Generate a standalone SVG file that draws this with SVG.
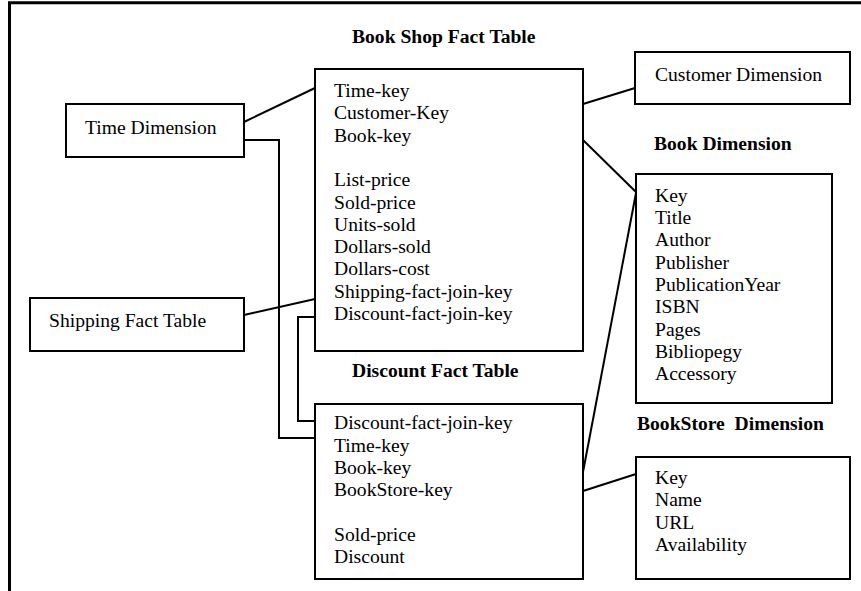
<svg xmlns="http://www.w3.org/2000/svg" width="861" height="591" viewBox="0 0 861 591">
<style>
.box{fill:#fff;stroke:#000;stroke-width:2}
.t{font-family:"Liberation Serif","Times New Roman",serif;font-size:19.6px;fill:#000}
.b{font-family:"Liberation Serif","Times New Roman",serif;font-size:19.6px;font-weight:bold;fill:#000}
.c{fill:none;stroke:#000;stroke-width:2}
</style>
<rect width="861" height="591" fill="#fff"/>
<path d="M9.5 591 V2.75 H861" fill="none" stroke="#000" stroke-width="3"/>
<g id="connectors">
<line class="c" x1="244" y1="122" x2="315" y2="88"/>
<polyline class="c" points="244,140 279,140 279,438 315,438"/>
<line class="c" x1="244" y1="315" x2="315" y2="299"/>
<polyline class="c" points="315,317 298,317 298,421 315,421"/>
<line class="c" x1="583" y1="104" x2="635" y2="88"/>
<line class="c" x1="583" y1="140" x2="636" y2="192"/>
<line class="c" x1="636" y1="193" x2="583" y2="472"/>
<line class="c" x1="583" y1="491" x2="636" y2="474"/>
</g>
<g id="time-dimension">
<rect class="box" x="66" y="104" width="178" height="53"/>
<text class="t" x="85" y="134">Time Dimension</text>
</g>
<g id="shipping-fact-table">
<rect class="box" x="30" y="298" width="214" height="53"/>
<text class="t" x="49" y="327">Shipping Fact Table</text>
</g>
<g id="book-shop-fact-table">
<text class="b" x="352" y="43">Book Shop Fact Table</text>
<rect class="box" x="315" y="69" width="268" height="282"/>
<text class="t" x="334">
<tspan x="334" y="97">Time-key</tspan>
<tspan x="334" y="119.3">Customer-Key</tspan>
<tspan x="334" y="141.6">Book-key</tspan>
<tspan x="334" y="186.2">List-price</tspan>
<tspan x="334" y="208.5">Sold-price</tspan>
<tspan x="334" y="230.8">Units-sold</tspan>
<tspan x="334" y="253.1">Dollars-sold</tspan>
<tspan x="334" y="275.4">Dollars-cost</tspan>
<tspan x="334" y="297.7">Shipping-fact-join-key</tspan>
<tspan x="334" y="320">Discount-fact-join-key</tspan>
</text>
</g>
<g id="customer-dimension">
<rect class="box" x="635" y="52" width="215" height="52"/>
<text class="t" x="655" y="81">Customer Dimension</text>
</g>
<g id="book-dimension">
<text class="b" x="654" y="150">Book Dimension</text>
<rect class="box" x="636" y="174" width="196" height="229"/>
<text class="t">
<tspan x="655" y="201.7">Key</tspan>
<tspan x="655" y="224">Title</tspan>
<tspan x="655" y="246.3">Author</tspan>
<tspan x="655" y="268.6">Publisher</tspan>
<tspan x="655" y="290.9">PublicationYear</tspan>
<tspan x="655" y="313.2">ISBN</tspan>
<tspan x="655" y="335.5">Pages</tspan>
<tspan x="655" y="357.8">Bibliopegy</tspan>
<tspan x="655" y="380.1">Accessory</tspan>
</text>
</g>
<g id="discount-fact-table">
<text class="b" x="352" y="377.3">Discount Fact Table</text>
<rect class="box" x="315" y="404" width="268" height="175"/>
<text class="t">
<tspan x="334" y="429.3">Discount-fact-join-key</tspan>
<tspan x="334" y="451.6">Time-key</tspan>
<tspan x="334" y="473.9">Book-key</tspan>
<tspan x="334" y="496.2">BookStore-key</tspan>
<tspan x="334" y="540.8">Sold-price</tspan>
<tspan x="334" y="563.1">Discount</tspan>
</text>
</g>
<g id="bookstore-dimension">
<text class="b" x="637" y="430" xml:space="preserve">BookStore  Dimension</text>
<rect class="box" x="636" y="457" width="214" height="122"/>
<text class="t">
<tspan x="655" y="484">Key</tspan>
<tspan x="655" y="506.3">Name</tspan>
<tspan x="655" y="528.6">URL</tspan>
<tspan x="655" y="551">Availability</tspan>
</text>
</g>
</svg>
